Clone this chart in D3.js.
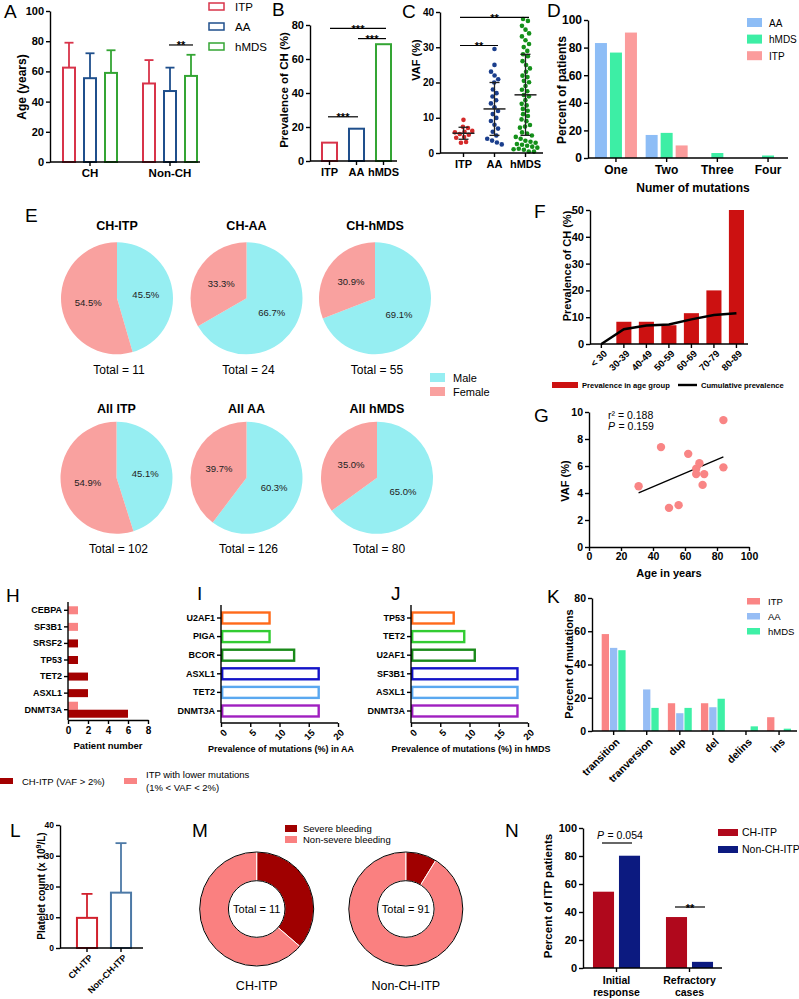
<!DOCTYPE html>
<html><head><meta charset="utf-8">
<script src="https://cdn.jsdelivr.net/npm/d3@7"></script>
<style>body{margin:0;background:#fff}svg{display:block}</style>
</head><body>
<script>
// ---------------- DATA ----------------
const groupsA = ['CH','Non-CH'];
const seriesA = ['ITP','AA','hMDS'];
const ageMeanCH = [62.5,55.5,59];
const ageSdCH = [16.5,16.5,15];
const ageMeanNonCH = [52,47,57];
const ageSdNonCH = [15.5,15.5,14];

const catsB = ['ITP','AA','hMDS'];
const prevB = [10.8,19.0,68.7];

const vafITP = [4.5,7.4,2.9,3.1,6.9,5.8,5.4,6.2,4.6,5.4,9.4,5.9];
const vafAA = [29.5,25,23,22,21,20,18,17,16,15,14,13,12,11,10,9,8,7,6,5,4,3.5,3,2.5];
const vafHMDS = [38,37.5,36,35,34,33,32,31,30,29,28,27.5,26,25,24,23,22,21.5,20.5,20,19,18,17.5,16.5,16,15,14,13.5,12.5,12,11,10.5,9.5,9,8,7.5,7,6,5.5,5,4.5,4,3.5,3,2.8,2.5,2.2,2,1.8,1.5,1.3,1.1,1,0.8,0.5];
const vafMean = [5.6,12.5,16.5];
const vafSd = [1.7,7.5,11.5];

const mutCounts = ['One','Two','Three','Four'];
const seriesD = ['AA','hMDS','ITP'];
const pctAA_D = [83.3,16.7,0,0];
const pctHMDS_D = [76.4,18.2,3.6,1.8];
const pctITP_D = [90.9,9.1,0,0];

const pieTitles = ['CH-ITP','CH-AA','CH-hMDS','All ITP','All AA','All hMDS'];
const malePct = [45.5,66.7,69.1,45.1,60.3,65.0];
const femalePct = [54.5,33.3,30.9,54.9,39.7,35.0];
const pieTotals = [11,24,55,102,126,80];

const ageGroups = ['< 30','30-39','40-49','50-59','60-69','70-79','80-89'];
const prevAgeGroup = [0,8.3,8.3,7.0,11.5,20.0,50.0];
const prevCumulative = [0,5.5,6.9,7.3,9.2,10.8,11.5];

const ageG = [31,45,50,56,62,67,67,69,71,72,84,84];
const vafG = [4.5,7.4,2.9,3.1,6.9,5.8,5.4,6.2,4.6,5.4,9.4,5.9];

const genesH = ['CEBPA','SF3B1','SRSF2','TP53','TET2','ASXL1','DNMT3A'];
const chItpH = [0,0,1,1,2,2,6];
const lowerH = [1,1,0,0,0,0,1];

const genesI = ['U2AF1','PIGA','BCOR','ASXL1','TET2','DNMT3A'];
const prevI = [8.3,8.3,12.5,16.7,16.7,16.7];
const genesJ = ['TP53','TET2','U2AF1','SF3B1','ASXL1','DNMT3A'];
const prevJ = [7.3,9.1,10.9,18.2,18.2,18.2];

const typesK = ['transition','tranversion','dup','del','delins','ins'];
const seriesK = ['ITP','AA','hMDS'];
const itpK = [58.3,0,16.7,16.7,0,8.3];
const aaK = [50,25,10.7,14.3,0,0];
const hmdsK = [48.6,13.9,13.9,19.4,2.8,1.4];

const groupsL = ['CH-ITP','Non-CH-ITP'];
const plateletMean = [9.8,18.0];
const plateletSd = [7.8,16.1];

const donutNames = ['CH-ITP','Non-CH-ITP'];
const severeM = [4,8];
const nonSevereM = [7,83];
const totalsM = [11,91];

const groupsN = ['Initial response','Refractory cases'];
const seriesN = ['CH-ITP','Non-CH-ITP'];
const chItpN = [54.5,36.4];
const nonChItpN = [80.2,4.4];

// ---------------- HELPERS ----------------
const F = "'Liberation Sans', Arial, Helvetica, sans-serif";
const svg = d3.select('body').append('svg').attr('width',799).attr('height',999).attr('font-family',F);
svg.append('rect').attr('width',799).attr('height',999).attr('fill','#fff');

function T(x,y,s,size,o={}){
  const t = svg.append('text').attr('x',x).attr('y',y).attr('font-size',size)
    .attr('font-weight',o.bold?'bold':'normal').attr('text-anchor',o.anchor||'start')
    .attr('fill',o.fill||'#000').text(s);
  if(o.rot) t.attr('transform',`rotate(${o.rot},${x},${y})`);
  if(o.italic) t.attr('font-style','italic');
  return t;
}
function label(x,y,s){ T(x,y,s,19); }
function styleAxis(g,size,sw=1.4){
  g.selectAll('text').attr('font-size',size).attr('font-weight','bold').attr('font-family',F).attr('fill','#000');
  g.selectAll('line').attr('stroke','#000').attr('stroke-width',sw);
  g.selectAll('.domain').attr('stroke','#000').attr('stroke-width',sw);
}
function line(x1,y1,x2,y2,c='#000',w=1.4){
  svg.append('line').attr('x1',x1).attr('y1',y1).attr('x2',x2).attr('y2',y2).attr('stroke',c).attr('stroke-width',w);
}
function yAxis(scale,x,ticks,size){
  const g = svg.append('g').attr('transform',`translate(${x},0)`)
    .call(d3.axisLeft(scale).tickValues(ticks).tickSize(4).tickSizeOuter(0).tickPadding(2).tickFormat(d3.format('d')));
  styleAxis(g,size); return g;
}
function xAxis(scale,y,x0,x1,size,o={}){
  const ax = d3.axisBottom(scale).tickSize(4).tickSizeOuter(0).tickPadding(o.pad||3);
  if(o.ticks) ax.tickValues(o.ticks);
  if(o.fmt) ax.tickFormat(o.fmt);
  const g = svg.append('g').attr('transform',`translate(0,${y})`).call(ax);
  g.select('.domain').remove();
  styleAxis(g,size);
  line(x0,y,x1,y);
  if(o.rot){
    g.selectAll('.tick text').attr('text-anchor','end').attr('x',0).attr('y',0).attr('dy','0.35em')
      .attr('transform',`translate(${o.rdx||3},${o.rdy||9}) rotate(${o.rot})`);
  }
  return g;
}
function sig(x0,x1,yy,s,size=11){
  line(x0,yy,x1,yy,'#000',1.2);
  T((x0+x1)/2,yy+4.5,s,size,{bold:true,anchor:'middle'});
}

// ---------------- PANEL A ----------------
label(4,18,'A');
const yA = d3.scaleLinear([0,100],[162,11]);
const xA = d3.scaleBand(groupsA,[50,210]);
const xAi = d3.scaleBand(seriesA,[-31.5,31.5]).paddingInner(1/3).paddingOuter(1/6);
const colA = ['#d8344a','#1f4f8c','#34a534'];
const meansA = [ageMeanCH,ageMeanNonCH], sdsA = [ageSdCH,ageSdNonCH];
groupsA.forEach((g,gi)=>seriesA.forEach((s,si)=>{
  const cx = xA(g)+xA.bandwidth()/2+xAi(s)+xAi.bandwidth()/2;
  const m = meansA[gi][si], sd = sdsA[gi][si];
  line(cx,yA(m),cx,yA(m+sd),colA[si],1.8);
  line(cx-4.5,yA(m+sd),cx+4.5,yA(m+sd),colA[si],1.8);
  svg.append('rect').attr('x',cx-xAi.bandwidth()/2+1).attr('y',yA(m)).attr('width',xAi.bandwidth()-2)
    .attr('height',yA(0)-yA(m)).attr('fill','#fff').attr('stroke',colA[si]).attr('stroke-width',2);
}));
yAxis(yA,50,[0,20,40,60,80,100],11);
xAxis(xA,162,50,200,11.5);
T(26,87,'Age (years)',12,{bold:true,anchor:'middle',rot:-90});
sig(169,193,yA(77.5),'**');
seriesA.forEach((s,i)=>{
  const yy = 3+i*20;
  svg.append('rect').attr('x',209).attr('y',yy).attr('width',15).attr('height',7).attr('fill','#fff').attr('stroke',colA[i]).attr('stroke-width',1.5);
  T(235,yy+7.5,s,11.5);
});

// ---------------- PANEL B ----------------
label(272,16,'B');
const yB = d3.scaleLinear([0,80],[161,25]);
const xB = d3.scaleBand(catsB,[316,397]).paddingInner(0.37).paddingOuter(0.185);
catsB.forEach((c,i)=>{
  svg.append('rect').attr('x',xB(c)+1).attr('y',yB(prevB[i])).attr('width',xB.bandwidth()-2)
    .attr('height',yB(0)-yB(prevB[i])).attr('fill','#fff').attr('stroke',colA[i]).attr('stroke-width',2);
});
yAxis(yB,310,[0,20,40,60,80],11);
xAxis(xB,161,310,397,11);
T(288,90,'Prevalence of CH (%)',11.5,{bold:true,anchor:'middle',rot:-90});
sig(328,358,yB(26),'***');
sig(330,386,yB(78),'***');
sig(358,386,yB(72),'***');

// ---------------- PANEL C ----------------
label(402,18,'C');
const yC = d3.scaleLinear([0,40],[153,12]);
const xC = d3.scaleBand(catsB,[448,541]);
const colC = ['#d42a2a','#1a3e8c','#14901a'];
[vafITP,vafAA,vafHMDS].forEach((vals,gi)=>{
  const cx = xC(catsB[gi])+xC.bandwidth()/2;
  const nodes = vals.map((v,i)=>({x:cx+((i%5)-2)*1.2, y:yC(v), ty:yC(v)}));
  const sim = d3.forceSimulation(nodes).force('x',d3.forceX(cx).strength(0.06))
    .force('y',d3.forceY(d=>d.ty).strength(0.9)).force('c',d3.forceCollide(2.6)).stop();
  for(let k=0;k<200;k++) sim.tick();
  nodes.forEach(n=>svg.append('circle').attr('cx',n.x).attr('cy',n.y).attr('r',2.3).attr('fill',colC[gi]));
  const m = vafMean[gi], sd = vafSd[gi];
  line(cx-11,yC(m),cx+11,yC(m),'#222',1.5);
  line(cx,yC(m-sd),cx,yC(m+sd),'#222',1.3);
  line(cx-5,yC(m-sd),cx+5,yC(m-sd),'#222',1.3);
  line(cx-5,yC(m+sd),cx+5,yC(m+sd),'#222',1.3);
});
yAxis(yC,440,[0,10,20,30,40],10);
xAxis(xC,153,440,543,11);
T(420,60,'VAF (%)',11,{bold:true,anchor:'middle',rot:-90});
sig(460,498,yC(30.5),'**');
sig(460,529,yC(38.5),'**');

// ---------------- PANEL D ----------------
label(547,17,'D');
const yD = d3.scaleLinear([0,100],[158,20]);
const xD = d3.scaleBand(mutCounts,[590.6,793.4]);
const xDi = d3.scaleBand(seriesD,[-22.5,22.5]).paddingInner(0.2).paddingOuter(0.1);
const colD = ['#8dbdf6','#3deea5','#fb9c9c'];
const valsD = [pctAA_D,pctHMDS_D,pctITP_D];
mutCounts.forEach((c,ci)=>seriesD.forEach((s,si)=>{
  const v = valsD[si][ci];
  if(v<=0) return;
  svg.append('rect').attr('x',xD(c)+xD.bandwidth()/2+xDi(s)).attr('y',yD(v)).attr('width',xDi.bandwidth())
    .attr('height',yD(0)-yD(v)).attr('fill',colD[si]);
}));
yAxis(yD,588,[0,20,40,60,80,100],12);
xAxis(xD,158,588,788,12);
T(693,192,'Numer of mutations',12,{bold:true,anchor:'middle'});
T(566,90,'Percent of patients',12,{bold:true,anchor:'middle',rot:-90});
seriesD.forEach((s,i)=>{
  const yy = 18+i*16.6;
  svg.append('rect').attr('x',747).attr('y',yy).attr('width',15).attr('height',9).attr('fill',colD[i]);
  T(769,yy+8.5,s,10);
});

// ---------------- PANEL E ----------------
label(25,222,'E');
const pieCx = [117,246.5,375,116.5,246.5,377];
const pieCy = [298.3,298.3,298.3,477.8,477.8,477.8];
const pieR = 56;
const colMale = '#96eef2', colFemale = '#f9a19f';
const pieGen = d3.pie().sort(null).startAngle(0).endAngle(2*Math.PI);
const arcE = d3.arc().innerRadius(0).outerRadius(pieR);
const arcLab = d3.arc().innerRadius(pieR*0.52).outerRadius(pieR*0.52);
pieTitles.forEach((t,i)=>{
  const g = svg.append('g').attr('transform',`translate(${pieCx[i]},${pieCy[i]})`);
  const arcs = pieGen([malePct[i],femalePct[i]]);
  const cols = [colMale,colFemale];
  arcs.forEach((a,k)=>{
    g.append('path').attr('d',arcE(a)).attr('fill',cols[k]);
  });
  arcs.forEach((a,k)=>{
    const c = arcLab.centroid(a);
    g.append('text').attr('x',c[0]).attr('y',c[1]+3.5).attr('text-anchor','middle').attr('font-size',9.5)
      .attr('fill','#222').text(d3.format('.1f')([malePct[i],femalePct[i]][k])+'%');
  });
  const row = i<3?0:1;
  T(pieCx[i],row?412.5:230,t,12.5,{bold:true,anchor:'middle'});
  T(pieCx[i]+2,row?553:374,'Total = '+pieTotals[i],12,{anchor:'middle'});
});
[['Male',colMale],['Female',colFemale]].forEach((d,i)=>{
  svg.append('rect').attr('x',430).attr('y',373+i*14).attr('width',15).attr('height',9).attr('fill',d[1]);
  T(453,382+i*14,d[0],11);
});

// ---------------- PANEL F ----------------
label(534,218,'F');
const yF = d3.scaleLinear([0,50],[344,210]);
const xF = d3.scaleBand(ageGroups,[590.1,747.7]).paddingInner(0.33).paddingOuter(0.165);
ageGroups.forEach((a,i)=>{
  if(prevAgeGroup[i]<=0) return;
  svg.append('rect').attr('x',xF(a)).attr('y',yF(prevAgeGroup[i])).attr('width',xF.bandwidth())
    .attr('height',yF(0)-yF(prevAgeGroup[i])).attr('fill','#cc1111');
});
svg.append('path').attr('d',d3.line().x((d,i)=>xF(ageGroups[i])+xF.bandwidth()/2).y(d=>yF(d))(prevCumulative))
  .attr('fill','none').attr('stroke','#000').attr('stroke-width',2.4);
yAxis(yF,590,[0,10,20,30,40,50],11);
xAxis(xF,344,590,748,9.5,{rot:-45,rdx:4,rdy:8});
T(571,266,'Prevalence of CH (%)',11,{bold:true,anchor:'middle',rot:-90});
svg.append('rect').attr('x',552).attr('y',382).attr('width',26).attr('height',6).attr('fill','#cc1111');
T(582,388,'Prevalence in age group',7.6,{bold:true});
line(678,385,697,385,'#000',2.4);
T(701,388,'Cumulative prevalence',7.6,{bold:true});

// ---------------- PANEL G ----------------
label(534,422,'G');
const yG = d3.scaleLinear([0,10],[547,412]);
const xG = d3.scaleLinear([0,100],[589,749]);
const mx = d3.mean(ageG), my = d3.mean(vafG);
const slope = d3.sum(ageG.map((a,i)=>(a-mx)*(vafG[i]-my)))/d3.sum(ageG.map(a=>(a-mx)**2));
const x0G = d3.min(ageG), x1G = d3.max(ageG);
line(xG(x0G),yG(my+slope*(x0G-mx)),xG(x1G),yG(my+slope*(x1G-mx)),'#000',1.3);
ageG.forEach((a,i)=>svg.append('circle').attr('cx',xG(a)).attr('cy',yG(vafG[i])).attr('r',4.2).attr('fill','#f98585'));
yAxis(yG,589,[0,2,4,6,8,10],10.5);
{
  const g = svg.append('g').attr('transform','translate(0,547)')
    .call(d3.axisBottom(xG).tickValues([0,20,40,60,80,100]).tickSize(4).tickSizeOuter(0).tickPadding(2));
  styleAxis(g,10.5);
}
T(669,577,'Age in years',11,{bold:true,anchor:'middle'});
T(569,481,'VAF (%)',11,{bold:true,anchor:'middle',rot:-90});
T(608,419,'r\u00B2 = 0.188',10.5);
T(608,430,'P',10.5,{italic:true});
T(618.5,430,'= 0.159',10.5);

// ---------------- PANEL H ----------------
label(6,602,'H');
const xH = d3.scaleLinear([0,8],[68,148]);
const yH = d3.scaleBand(genesH,[602,718]);
const colDark = '#a30000', colLight = '#f98484';
genesH.forEach((g,i)=>{
  const c = yH(g)+yH.bandwidth()/2;
  const both = chItpH[i]>0 && lowerH[i]>0;
  if(lowerH[i]>0) svg.append('rect').attr('x',xH(0)).attr('y',(both?c-8:c-4)).attr('width',xH(lowerH[i])-xH(0)).attr('height',8).attr('fill',colLight);
  if(chItpH[i]>0) svg.append('rect').attr('x',xH(0)).attr('y',(both?c:c-4)).attr('width',xH(chItpH[i])-xH(0)).attr('height',8).attr('fill',colDark);
});
{
  const g = svg.append('g').attr('transform','translate(68,0)').call(d3.axisLeft(yH).tickSize(4).tickPadding(2));
  g.select('.domain').remove(); styleAxis(g,9);
  line(68,602,68,720);
}
{
  const g = svg.append('g').attr('transform','translate(0,720)')
    .call(d3.axisBottom(xH).tickValues([0,2,4,6,8]).tickSize(4).tickSizeOuter(0).tickPadding(3));
  styleAxis(g,10);
}
T(108,749,'Patient number',9.5,{bold:true,anchor:'middle'});
svg.append('rect').attr('x',0).attr('y',778).attr('width',13).attr('height',6).attr('fill',colDark);
T(22,785,'CH-ITP (VAF > 2%)',9.5);
svg.append('rect').attr('x',124).attr('y',778).attr('width',13).attr('height',6).attr('fill',colLight);
T(146,778,'ITP with lower mutations',9.5);
T(146,791,'(1% < VAF < 2%)',9.5);

// ---------------- PANELS I / J ----------------
const colMut = {orange:'#ff6a1a',lgreen:'#33cc33',dgreen:'#1a8a1a',blue:'#1414c8',lblue:'#5aa8f0',purple:'#a020c0'};
const colI = [colMut.orange,colMut.lgreen,colMut.dgreen,colMut.blue,colMut.lblue,colMut.purple];
function hbars(genes,vals,ax,lab,lx,title,tx){
  label(lx,600,lab);
  const xs = d3.scaleLinear([0,20],[ax,ax+117]);
  const ys = d3.scaleBand(genes,[608.7,720.3]).paddingInner(0.41).paddingOuter(0.205);
  genes.forEach((g,i)=>{
    svg.append('rect').attr('x',xs(0)+1.2).attr('y',ys(g)).attr('width',xs(vals[i])-xs(0)-1.2).attr('height',ys.bandwidth())
      .attr('fill','#fff').attr('stroke',colI[i]).attr('stroke-width',2.4);
  });
  const g = svg.append('g').attr('transform',`translate(${ax},0)`).call(d3.axisLeft(ys).tickSize(4).tickPadding(2));
  g.select('.domain').remove(); styleAxis(g,9);
  line(ax,605,ax,723);
  xAxis(xs,723,ax,ax+117,9.5,{ticks:[0,5,10,15,20],rot:-45,rdx:4,rdy:8});
  T(tx,752,title,9,{bold:true,anchor:'middle'});
}
hbars(genesI,prevI,221,'I',197,'Prevalence of mutations (%) in AA',281);
hbars(genesJ,prevJ,411,'J',391,'Prevalence of mutations (%) in hMDS',471);

// ---------------- PANEL K ----------------
label(547,603,'K');
const yK = d3.scaleLinear([0,80],[731,598]);
const xK = d3.scaleBand(typesK,[597.1,795.6]);
const xKi = d3.scaleBand(seriesK,[-12.45,12.45]).paddingInner(0.12).paddingOuter(0.06);
const colK = ['#fa8585','#96bdf5','#3ef0a6'];
const valsK = [itpK,aaK,hmdsK];
typesK.forEach((t,ti)=>seriesK.forEach((s,si)=>{
  const v = valsK[si][ti]; if(v<=0) return;
  svg.append('rect').attr('x',xK(t)+xK.bandwidth()/2+xKi(s)).attr('y',yK(v)).attr('width',xKi.bandwidth())
    .attr('height',yK(0)-yK(v)).attr('fill',colK[si]);
}));
yAxis(yK,592,[0,20,40,60,80],10.5);
xAxis(xK,731,592,797,10.5,{rot:-45,rdx:4,rdy:9});
T(573,664,'Percent of mutations',11,{bold:true,anchor:'middle',rot:-90});
seriesK.forEach((s,i)=>{
  svg.append('rect').attr('x',747).attr('y',598+i*15).attr('width',13).attr('height',6.5).attr('fill',colK[i]);
  T(768,605+i*15,s,9.5);
});

// ---------------- PANEL L ----------------
label(10,837,'L');
const yL = d3.scaleLinear([0,40],[948,825]);
const xL = d3.scaleBand(groupsL,[70,138]).paddingInner(0.35).paddingOuter(0.175);
const colL = ['#d1202c','#4c79a6'];
groupsL.forEach((g,i)=>{
  const cx = xL(g)+xL.bandwidth()/2, m = plateletMean[i], sd = plateletSd[i];
  line(cx,yL(m),cx,yL(m+sd),colL[i],1.8);
  line(cx-5.5,yL(m+sd),cx+5.5,yL(m+sd),colL[i],1.8);
  svg.append('rect').attr('x',xL(g)+1).attr('y',yL(m)).attr('width',xL.bandwidth()-2).attr('height',yL(0)-yL(m))
    .attr('fill','#fff').attr('stroke',colL[i]).attr('stroke-width',2);
});
yAxis(yL,60,[0,10,20,30,40],8.5);
xAxis(xL,948,60,143,9,{rot:-45,rdx:4,rdy:8});
{
  const t = svg.append('text').attr('x',45).attr('y',886).attr('font-size',10).attr('font-weight','bold')
    .attr('text-anchor','middle').attr('transform','rotate(-90,45,886)');
  t.append('tspan').text('Platelet count (x 10');
  t.append('tspan').attr('dy',-4).attr('font-size',7).text('9');
  t.append('tspan').attr('dy',4).text('/L)');
}

// ---------------- PANEL M ----------------
label(192,837,'M');
const donCx = [256.7,405.8], donCy = 909;
const arcM = d3.arc().innerRadius(28.3).outerRadius(57);
const colSev = '#a00000', colNon = '#fa8080';
donutNames.forEach((n,i)=>{
  const g = svg.append('g').attr('transform',`translate(${donCx[i]},${donCy})`);
  const arcs = pieGen([severeM[i],nonSevereM[i]]);
  arcs.forEach((a,k)=>g.append('path').attr('d',arcM(a)).attr('fill',k?colNon:colSev).attr('stroke','#fff').attr('stroke-width',1));
  g.append('circle').attr('r',57).attr('fill','none').attr('stroke','#000').attr('stroke-width',1);
  g.append('circle').attr('r',28.3).attr('fill','none').attr('stroke','#000').attr('stroke-width',1);
  g.append('text').attr('y',4).attr('text-anchor','middle').attr('font-size',11).text('Total = '+totalsM[i]);
  T(donCx[i],990,n,12.5,{anchor:'middle'});
});
[['Severe bleeding',colSev],['Non-severe bleeding',colNon]].forEach((d,i)=>{
  svg.append('rect').attr('x',285).attr('y',825+i*11).attr('width',12).attr('height',7).attr('fill',d[1]);
  T(303,832+i*11,d[0],9.5);
});

// ---------------- PANEL N ----------------
label(505,837,'N');
const yN = d3.scaleLinear([0,100],[968,828]);
const xN = d3.scaleBand(groupsN,[580,726]);
const xNi = d3.scaleBand(seriesN,[-26,26]).paddingInner(0.19).paddingOuter(0.095);
const colN = ['#b0081c','#0c1a80'];
const valsN = [chItpN,nonChItpN];
groupsN.forEach((g,gi)=>seriesN.forEach((s,si)=>{
  const v = valsN[si][gi];
  svg.append('rect').attr('x',xN(g)+xN.bandwidth()/2+xNi(s)).attr('y',yN(v)).attr('width',xNi.bandwidth())
    .attr('height',yN(0)-yN(v)).attr('fill',colN[si]);
}));
yAxis(yN,583,[0,20,40,60,80,100],11);
{
  xAxis(xN,968,583,722,10.5,{fmt:()=>''});
  groupsN.forEach(gr=>{
    const cx = xN(gr)+xN.bandwidth()/2, parts = gr.split(' ');
    T(cx,984,parts[0],10.5,{bold:true,anchor:'middle'});
    T(cx,996,parts[1],10.5,{bold:true,anchor:'middle'});
  });
}
T(552,896,'Percent of ITP patients',11.5,{bold:true,anchor:'middle',rot:-90});
line(602,843,632,843,'#000',1.2);
T(597,839,'P',10.5,{italic:true});
T(607.5,839,'= 0.054',10.5);
sig(675,705,907,'**');
seriesN.forEach((s,i)=>{
  svg.append('rect').attr('x',718).attr('y',829+i*17).attr('width',20).attr('height',7).attr('fill',colN[i]);
  T(742,836+i*17,s,10.5);
});
</script>
</body></html>
